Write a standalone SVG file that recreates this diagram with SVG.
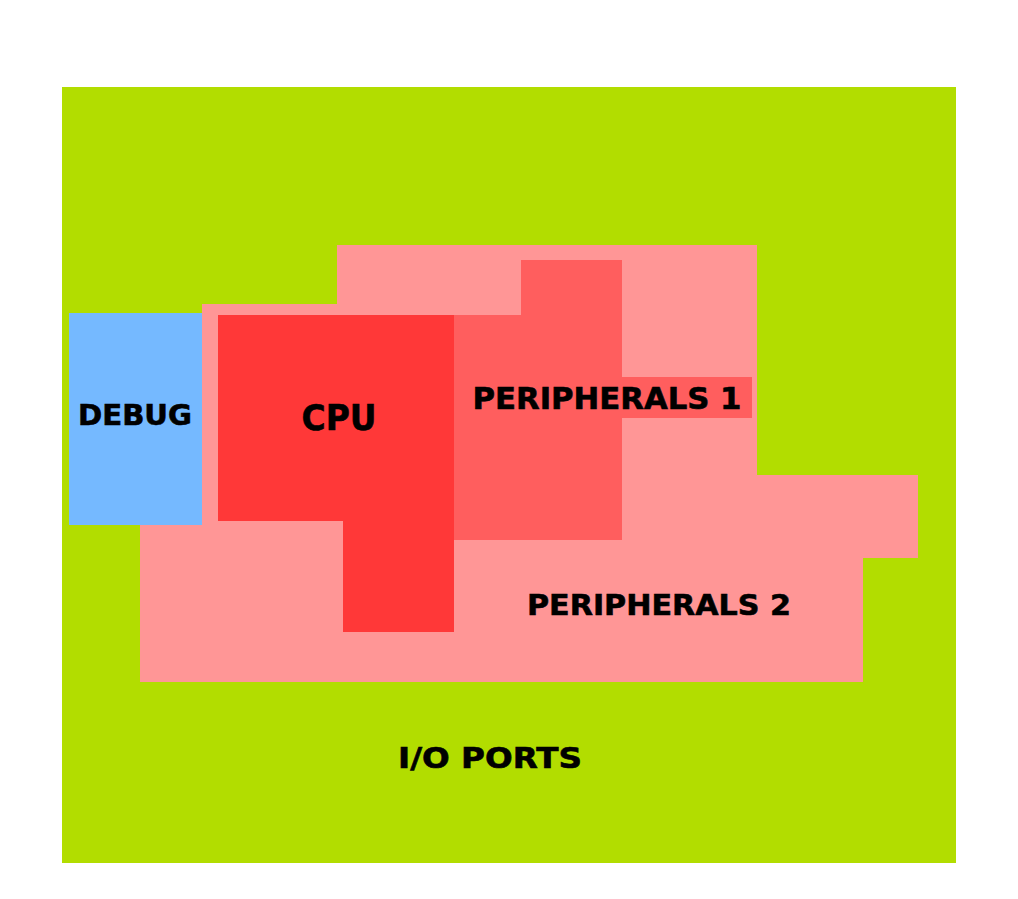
<svg xmlns="http://www.w3.org/2000/svg" width="1018" height="899" viewBox="0 0 1018 899">
<style>
.lbl{font-family:"DejaVu Sans","Liberation Sans",sans-serif;font-weight:bold;fill:#000;stroke:#000;stroke-width:0.6;text-anchor:middle}
</style>
<rect width="1018" height="899" fill="#ffffff"/>
<g id="io-ports">
<rect x="62" y="87" width="894" height="776" fill="#b2dd00"/>
<text class="lbl" x="490" y="768" font-size="29" textLength="184" lengthAdjust="spacingAndGlyphs">I/O PORTS</text>
</g>
<g id="peripherals-2">
<polygon points="337,245 757,245 757,475 918,475 918,558 863,558 863,682 140,682 140,525 202,525 202,304 337,304" fill="#ff9696"/>
<text class="lbl" x="659" y="615" font-size="29" textLength="264" lengthAdjust="spacingAndGlyphs">PERIPHERALS 2</text>
</g>
<g id="peripherals-1">
<polygon points="521,260 622,260 622,377 752,377 752,418 622,418 622,540 454,540 454,315 521,315" fill="#ff5e5e"/>
<text class="lbl" x="607" y="409" font-size="30" textLength="269" lengthAdjust="spacingAndGlyphs">PERIPHERALS 1</text>
</g>
<g id="cpu">
<polygon points="218,315 454,315 454,632 343,632 343,521 218,521" fill="#ff3838"/>
<text class="lbl" x="339" y="430" font-size="35" textLength="75" lengthAdjust="spacingAndGlyphs">CPU</text>
</g>
<g id="debug">
<rect x="69" y="313" width="133" height="212" fill="#75b9ff"/>
<text class="lbl" x="135" y="425" font-size="29" textLength="114" lengthAdjust="spacingAndGlyphs">DEBUG</text>
</g>
</svg>
